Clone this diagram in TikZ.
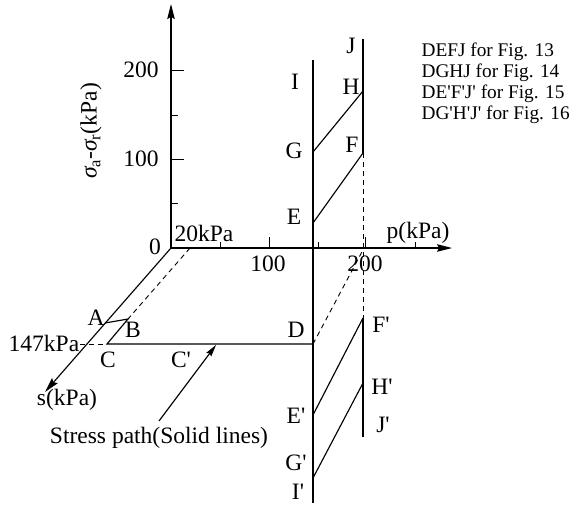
\documentclass[tikz,border=0pt]{standalone}
\usepackage{fontspec}
\setmainfont{Liberation Serif}
\usetikzlibrary{arrows.meta}
\newcommand\pq{\textquotesingle}
\begin{document}
\begin{tikzpicture}[x=1pt,y=-1pt,
  line width=1.15pt,
  lbl/.style={font=\fontsize{23.5}{26}\selectfont, inner sep=0pt},
  leg/.style={font=\fontsize{19.3}{21}\selectfont, inner sep=0pt, anchor=west},
  axisarrow/.style={-{Stealth[length=15pt,width=7.5pt,inset=2pt]}},
  patharrow/.style={-{Stealth[length=12pt,width=6pt,inset=1.5pt]}},
  dsh/.style={line width=0.9pt, dash pattern=on 5pt off 4pt},
  tick/.style={line width=1pt},
  ]
\useasboundingbox (0,0) rectangle (571,504);

% points
\coordinate (O) at (171,248);
\coordinate (Ytip) at (171,4);
\coordinate (Ptip) at (452,248);
\coordinate (Stip) at (45,392);
\coordinate (P20) at (190,248);
\coordinate (P200) at (364,248);
\coordinate (A) at (105,323);
\coordinate (B) at (128,319);
\coordinate (C) at (107,344);
\coordinate (S147) at (80,344);
\coordinate (D) at (313,344);
\coordinate (Itop) at (313,60);
\coordinate (Ibot) at (313,503);
\coordinate (Jtop) at (363,39);
\coordinate (Jbot) at (363,437);
\coordinate (E) at (313,223);
\coordinate (F) at (363,153);
\coordinate (G) at (313,152);
\coordinate (H) at (363,91);
\coordinate (Ep) at (313,415);
\coordinate (Fp) at (363,318);
\coordinate (Gp) at (313,478);
\coordinate (Hp) at (363,383);
\coordinate (SPs) at (159,421);
\coordinate (SPe) at (216,345);

% axes
\draw[axisarrow] (O) -- (Ytip);
\draw[axisarrow] (O) -- (Ptip);
\draw[axisarrow] (O) -- (Stip);

% ticks on vertical axis
\foreach \yy/\len in {70/13,159/13,115/7,203/7}
  \draw[tick] (171,\yy) -- ++(\len,0);
% ticks on p axis
\foreach \xx/\len in {220/6,269/11,318/6,365/11,415/6}
  \draw[tick] (\xx,248) -- ++(0,-\len);

% dashed helper lines
\draw[dsh] (P20) -- (B);
\draw[dsh] (S147) -- (C);
\draw[dsh] (D) -- (P200);
\draw[dsh] (F) -- (Fp);

% stress paths
\draw (A) -- (B) -- (C) -- (D);
\draw (Itop) -- (Ibot);
\draw (Jtop) -- (F);
\draw (Fp) -- (Jbot);
\draw (E) -- (F);
\draw (G) -- (H);
\draw (Ep) -- (Fp);
\draw (Gp) -- (Hp);
\draw[patharrow] (SPs) -- (SPe);

% axis labels
\node[lbl] (l0) at (155,247) {0};
\node[lbl] (l200y) at (141,70) {200};
\node[lbl] (l100y) at (141,159) {100};
\node[lbl] (l100p) at (268,264) {100};
\node[lbl] (l200p) at (365,264) {200};
\node[lbl] (l20) at (204,233) {20kPa};
\node[lbl] (lp) at (418,233) {p(kPa)};
\node[lbl] (ls) at (67,400) {s(kPa)};
\node[lbl] (l147) at (44,343) {147kPa};
\node[lbl, rotate=90] (lq) at (91,131) {{\itshape σ}\textsubscript{a}-{\itshape σ}\textsubscript{r}(kPa)};

% point labels
\node[lbl] (tA) at (96,318) {A};
\node[lbl] (tB) at (133,330) {B};
\node[lbl] (tC) at (108,360) {C};
\node[lbl] (tCp) at (181,360) {C\pq};
\node[lbl] (tD) at (296,330) {D};
\node[lbl] (tE) at (294,217) {E};
\node[lbl] (tF) at (352,145) {F};
\node[lbl] (tG) at (294,151) {G};
\node[lbl] (tH) at (351,87) {H};
\node[lbl] (tI) at (295,82) {I};
\node[lbl] (tJ) at (351,46) {J};
\node[lbl] (tEp) at (296,416) {E\pq};
\node[lbl] (tFp) at (381,325) {F\pq};
\node[lbl] (tGp) at (296,463) {G\pq};
\node[lbl] (tHp) at (382,387) {H\pq};
\node[lbl] (tIp) at (298,492) {I\pq};
\node[lbl] (tJp) at (383,425) {J\pq};
\node[lbl] (tsp) at (159,438) {Stress path(Solid lines)};

% legend
\node[leg] (g1) at (421,52) {DEFJ for Fig. 13};
\node[leg] (g2) at (421,73) {DGHJ for Fig. 14};
\node[leg] (g3) at (421,94) {DE\pq F\pq J\pq\ for Fig. 15};
\node[leg] (g4) at (421,115) {DG\pq H\pq J\pq\ for Fig. 16};
\end{tikzpicture}
\end{document}
